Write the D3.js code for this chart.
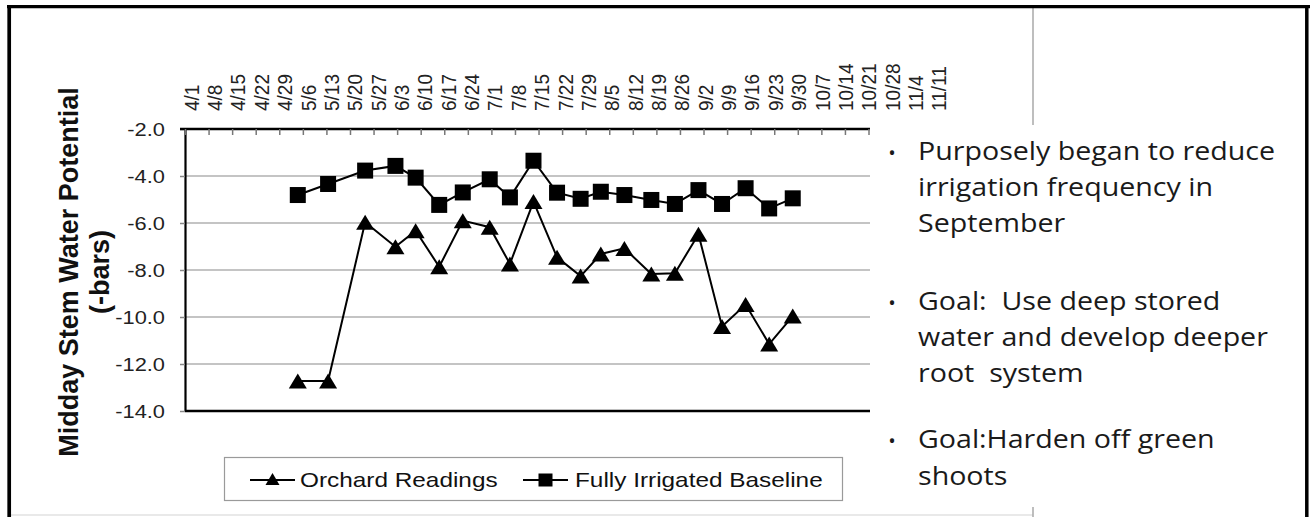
<!DOCTYPE html>
<html><head><meta charset="utf-8">
<script src="https://cdn.jsdelivr.net/npm/d3@7"></script>
<style>
body{margin:0;background:#fff}
svg{display:block}
text{white-space:pre}
</style>
</head><body>
<svg id="c" width="1310" height="517"></svg>
<script>
// ---------- data ----------
const tickLabels = ["4/1","4/8","4/15","4/22","4/29","5/6","5/13","5/20","5/27","6/3","6/10","6/17","6/24","7/1","7/8","7/15","7/22","7/29","8/5","8/12","8/19","8/26","9/2","9/9","9/16","9/23","9/30","10/7","10/14","10/21","10/28","11/4","11/11"];
const dates = ["5/4","5/13","5/24","6/2","6/8","6/15","6/22","6/30","7/6","7/13","7/20","7/27","8/2","8/9","8/17","8/24","8/31","9/7","9/14","9/21","9/28"];
const orchard = [-12.72,-12.72,-5.97,-7.01,-6.33,-7.86,-5.90,-6.18,-7.74,-5.09,-7.46,-8.26,-7.32,-7.08,-8.17,-8.14,-6.48,-10.40,-9.47,-11.15,-9.96];
const baseline = [-4.81,-4.34,-3.77,-3.57,-4.07,-5.23,-4.70,-4.14,-4.91,-3.35,-4.71,-4.97,-4.67,-4.81,-5.02,-5.19,-4.60,-5.19,-4.52,-5.38,-4.95];
const yTicks = [-2,-4,-6,-8,-10,-12,-14];
const seriesNames = ["Orchard Readings","Fully Irrigated Baseline"];
const yTitle = ["Midday Stem Water Potential","(-bars)"];
const bullets = [
  ["Purposely began to reduce","irrigation frequency in","September"],
  ["Goal:  Use deep stored","water and develop deeper","root  system"],
  ["Goal:Harden off green","shoots"]
];

// ---------- setup ----------
const svg = d3.select("#c");
const YEAR = 2009;
const parse = s => { const [m, d] = s.split("/").map(Number); return new Date(YEAR, m - 1, d, 12); };
const axisStart = new Date(YEAR, 3, 1), axisEnd = new Date(YEAR, 9, 21);
const x = d3.scaleTime().domain([axisStart, axisEnd]).range([185, 868.5]);
const y = d3.scaleLinear().domain([-14, -2]).range([411, 129]);
const tickDates = d3.range(0, 30).map(i => d3.timeDay.offset(axisStart, 7 * i));
const labelX = d3.scalePoint().domain(tickLabels).range([190.7, 938.3]);
const ARIAL = "'Liberation Sans', Arial, sans-serif";
const SX = 1.15;

// ---------- outer frame ----------
const frame = svg.append("g");
frame.append("path").attr("d", "M10,515H1033").attr("stroke", "#d4d4d4").attr("stroke-width", 1.2).attr("fill", "none");
frame.append("path").attr("d", "M1033,7V125M1033,507V517").attr("stroke", "#a9a9a9").attr("stroke-width", 1.5).attr("fill", "none");
frame.append("path").attr("d", "M7,6.7H1310").attr("stroke", "#000").attr("stroke-width", 3.3);
frame.append("path").attr("d", "M9.2,5V517").attr("stroke", "#000").attr("stroke-width", 3.7);
frame.append("path").attr("d", "M1306.8,5V517").attr("stroke", "#000").attr("stroke-width", 3.5);

// ---------- gridlines ----------
const plot = svg.append("g");
plot.append("g").selectAll("line").data(yTicks.filter(v => v > -14 && v < -2)).join("line")
  .attr("x1", 185).attr("x2", 870).attr("y1", d => y(d)).attr("y2", d => y(d))
  .attr("stroke", "#b0b0b0").attr("stroke-width", 1.5);
plot.append("line").attr("x1", 185).attr("x2", 870).attr("y1", y(-14)).attr("y2", y(-14))
  .attr("stroke", "#000").attr("stroke-width", 2.5);

// ---------- y axis ----------
const yAxis = plot.append("g").attr("transform", "translate(185,0)")
  .call(d3.axisLeft(y).tickValues(yTicks).tickSize(5).tickSizeOuter(0).tickFormat(d => d.toFixed(1)));
yAxis.select(".domain").attr("stroke", "#000").attr("stroke-width", 2.2);
yAxis.selectAll(".tick line").attr("stroke", "#888").attr("stroke-width", 1.5);
yAxis.selectAll(".tick text")
  .attr("x", 0).attr("dy", "0.36em")
  .attr("transform", `translate(-20,0) scale(${SX},1)`)
  .attr("text-anchor", "end")
  .style("font-family", ARIAL).style("font-size", "19px").attr("fill", "#222");

// ---------- x axis (top) ----------
const xAxis = plot.append("g").attr("transform", `translate(0,${y(-2)})`)
  .call(d3.axisTop(x).tickValues(tickDates).tickSize(-6).tickSizeOuter(0).tickFormat(""));
xAxis.select(".domain").attr("stroke", "#000").attr("stroke-width", 2.5)
  .attr("d", "M180,0H870");
xAxis.selectAll(".tick line").attr("stroke", "#777").attr("stroke-width", 1.5);

const lblAxis = svg.append("g").attr("transform", "translate(0,111)")
  .call(d3.axisTop(labelX).tickSize(0).tickSizeOuter(0));
lblAxis.select(".domain").remove();
lblAxis.selectAll(".tick text")
  .attr("x", 0).attr("y", 0).attr("dy", "0.36em")
  .attr("transform", "scale(1.1,1) rotate(-90)")
  .attr("text-anchor", "start")
  .style("font-family", ARIAL).style("font-size", "19px").attr("fill", "#222");

// ---------- y title ----------
const yt = svg.append("g").style("font-family", ARIAL).style("font-weight", "bold").style("font-size", "27px").attr("fill", "#111");
yt.append("text").attr("transform", "translate(78.3,272) rotate(-90)").attr("text-anchor", "middle").text(yTitle[0]);
yt.append("text").attr("transform", "translate(109,272) rotate(-90)").attr("text-anchor", "middle").text(yTitle[1]);

// ---------- series ----------
const tri = (w, h) => `M0,${-h / 2}L${w / 2},${h / 2}L${-w / 2},${h / 2}Z`;
const pts = vals => dates.map((d, i) => ({ date: parse(d), v: vals[i] }));
const line = d3.line().x(d => x(d.date)).y(d => y(d.v));
const series = [
  { name: seriesNames[0], data: pts(orchard), marker: "tri" },
  { name: seriesNames[1], data: pts(baseline), marker: "sq" }
];
series.forEach(s => {
  const g = plot.append("g");
  g.append("path").attr("d", line(s.data)).attr("fill", "none").attr("stroke", "#000").attr("stroke-width", 2);
  if (s.marker === "tri") {
    g.selectAll("path.m").data(s.data).join("path").attr("class", "m")
      .attr("transform", d => `translate(${x(d.date)},${y(d.v)})`)
      .attr("d", tri(18, 15)).attr("fill", "#000");
  } else {
    g.selectAll("rect.m").data(s.data).join("rect").attr("class", "m")
      .attr("x", d => x(d.date) - 8).attr("y", d => y(d.v) - 8)
      .attr("width", 16).attr("height", 16).attr("fill", "#000");
  }
});

// ---------- legend ----------
const lg = svg.append("g");
lg.append("rect").attr("x", 224.5).attr("y", 457.5).attr("width", 618).attr("height", 43)
  .attr("fill", "#fff").attr("stroke", "#9a9a9a").attr("stroke-width", 1.2);
const legendItems = [
  { name: seriesNames[0], x0: 250, marker: "tri", tx: 300 },
  { name: seriesNames[1], x0: 523, marker: "sq", tx: 575 }
];
legendItems.forEach(it => {
  lg.append("line").attr("x1", it.x0).attr("x2", it.x0 + 45).attr("y1", 480).attr("y2", 480)
    .attr("stroke", "#000").attr("stroke-width", 2);
  if (it.marker === "tri") {
    lg.append("path").attr("transform", `translate(${it.x0 + 22.5},479)`).attr("d", tri(14, 12)).attr("fill", "#000");
  } else {
    lg.append("rect").attr("x", it.x0 + 22.5 - 7).attr("y", 473.5).attr("width", 14).attr("height", 13).attr("fill", "#000");
  }
  lg.append("text").attr("transform", `translate(${it.tx},486.5) scale(1.16,1)`)
    .style("font-family", ARIAL).style("font-size", "21px").attr("fill", "#111").text(it.name);
});

// ---------- bullet text ----------
const baselines = [[160, 196, 232], [310, 346, 381.5], [448, 485]];
const bt = svg.append("g").style("font-family", "'Open Sans', 'Noto Sans', sans-serif").style("font-size", "26px").attr("fill", "#1a1a1a");
bullets.forEach((lines, bi) => {
  bt.append("text").attr("x", 892).attr("y", baselines[bi][0]).attr("text-anchor", "middle")
    .style("font-size", "20px").text("•");
  lines.forEach((t, li) => {
    bt.append("text").attr("transform", `translate(918,${baselines[bi][li]}) scale(1.1,1)`).text(t);
  });
});
</script>
</body></html>
